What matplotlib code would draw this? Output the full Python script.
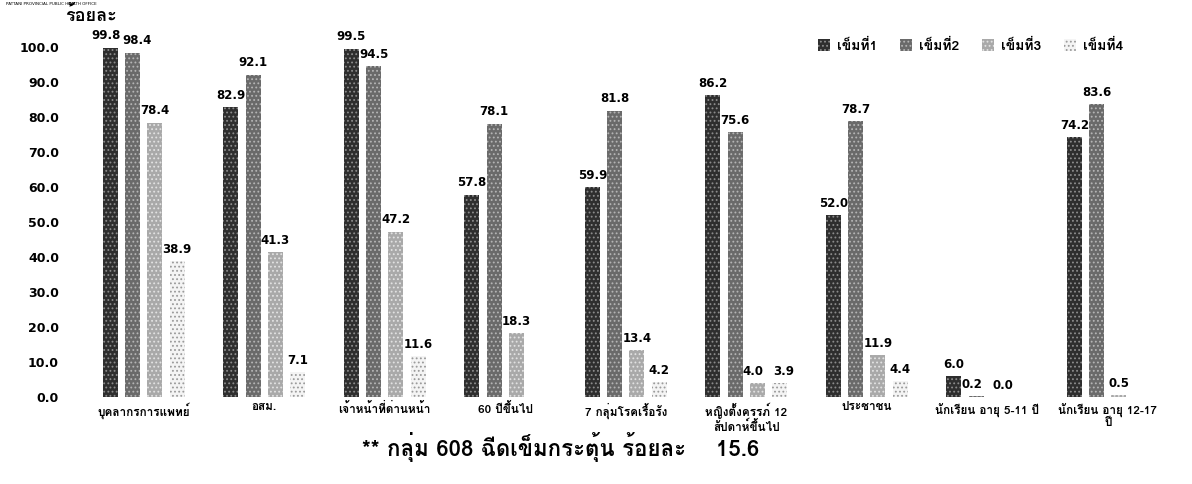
import matplotlib
matplotlib.use("Agg")
import matplotlib.pyplot as plt
import numpy as np
from matplotlib import font_manager
from matplotlib.ft2font import FT2Font

CATEGORIES = [
    "บุคลากรการแพทย์", "อสม.", "เจ้าหน้าที่ด่านหน้า", "60 ปีขึ้นไป",
    "7 กลุ่มโรคเรื้อรัง", "หญิงตั้งครรภ์ 12\nสัปดาห์ขึ้นไป", "ประชาชน",
    "นักเรียน อายุ 5-11 ปี", "นักเรียน อายุ 12-17\nปี",
]
SERIES = ["เข็มที่1", "เข็มที่2", "เข็มที่3", "เข็มที่4"]
NAN = np.nan
DOSE1 = [99.8, 82.9, 99.5, 57.8, 59.9, 86.2, 52.0, 6.0, 74.2]
DOSE2 = [98.4, 92.1, 94.5, 78.1, 81.8, 75.6, 78.7, 0.2, 83.6]
DOSE3 = [78.4, 41.3, 47.2, 18.3, 13.4, 4.0, 11.9, 0.0, 0.5]
DOSE4 = [38.9, 7.1, 11.6, NAN, 4.2, 3.9, 4.4, NAN, NAN]
YTICKS = [0, 10, 20, 30, 40, 50, 60, 70, 80, 90, 100]
BOOSTER_608 = 15.6


def thai_font():
    """Return the first installed family that has Thai glyphs."""
    for path in sorted(font_manager.findSystemFonts()):
        try:
            if ord("ก") in FT2Font(path).get_charmap():
                return font_manager.FontProperties(fname=path).get_name()
        except Exception:
            continue
    return "DejaVu Sans"


THAI = [thai_font(), "DejaVu Sans"]
plt.rcParams["font.family"] = ["DejaVu Sans"]
plt.rcParams["hatch.linewidth"] = 0.8

FACES = ["#2e2e2e", "#6a6a6a", "#a9a9a9", "#f4f4f4"]
DOTS = ["#8c8c8c", "#b5b5b5", "#e2e2e2", "#9a9a9a"]

fig = plt.figure(figsize=(11.92, 4.84), dpi=100)
ax = fig.add_axes([0.06, 0.18, 0.93, 0.723])

x = np.arange(len(CATEGORIES))
step, width = 0.185, 0.125
data = np.array([DOSE1, DOSE2, DOSE3, DOSE4])
for i, name in enumerate(SERIES):
    pos = x + (i - 1.5) * step
    ax.bar(pos, data[i], width, label=name, color=FACES[i], edgecolor=DOTS[i],
           linewidth=0, hatch="....")

# value labels; pull apart neighbours of almost equal height
for g in range(len(CATEGORIES)):
    for i in range(len(SERIES)):
        v = data[i, g]
        if np.isnan(v):
            continue
        dx = 0.0
        if i + 1 < len(SERIES) and abs(v - data[i + 1, g]) < 5:
            dx -= 0.035
        if i > 0 and abs(v - data[i - 1, g]) < 5:
            dx += 0.035
        ax.text(g + (i - 1.5) * step + dx, v + 1.5, f"{v:.1f}", ha="center",
                va="bottom", fontsize=8.5, fontweight="bold", clip_on=False)

ax.set_xlim(-0.6, 8.6)
ax.set_ylim(0, 100)
ax.set_yticks(YTICKS)
ax.set_yticklabels([f"{t:.1f}" for t in YTICKS], fontsize=9, fontweight="bold")
ax.set_xticks(x)
ax.set_xticklabels(CATEGORIES, fontsize=8.5, fontweight="bold", va="top",
                   family=THAI, linespacing=1.1)
ax.tick_params(length=0, pad=4)
ax.tick_params(axis="y", pad=9)
for s in ax.spines.values():
    s.set_visible(False)

ax.legend(loc="upper right", bbox_to_anchor=(0.96, 1.06), ncol=4, frameon=False,
          handlelength=0.9, handleheight=0.9, columnspacing=1.6,
          handletextpad=0.5, prop={"family": THAI, "weight": "bold", "size": 10})

fig.text(0.055, 0.968, "ร้อยละ", fontsize=13, fontweight="bold", va="center",
         family=THAI)
fig.text(0.005, 0.992, "PATTANI PROVINCIAL PUBLIC HEALTH OFFICE", fontsize=3,
         va="center")
fig.text(0.47, 0.076, f"** กลุ่ม 608 ฉีดเข็มกระตุ้น ร้อยละ    {BOOSTER_608}",
         fontsize=16, fontweight="bold", ha="center", va="center", family=THAI)

fig.savefig("out.png", dpi=100)
